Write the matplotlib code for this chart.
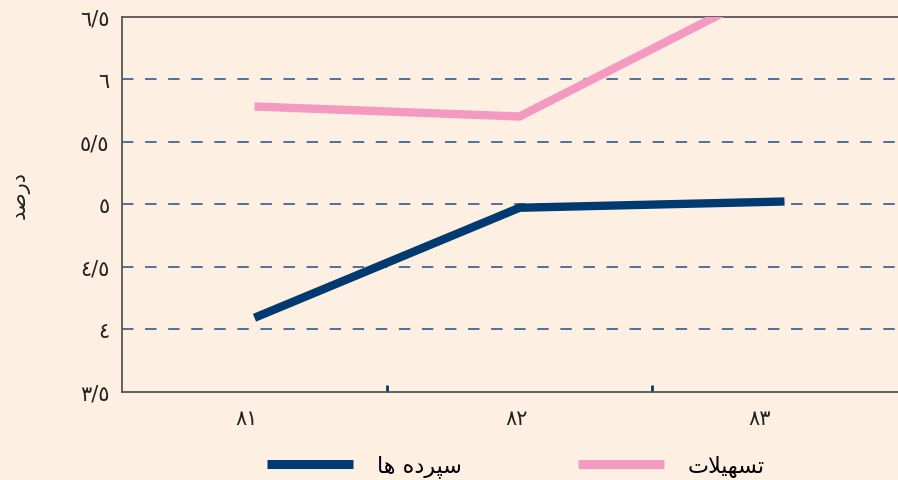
import matplotlib
matplotlib.use("Agg")
import matplotlib.pyplot as plt
from matplotlib.transforms import ScaledTranslation

# ---- data ----
years = ["٨١", "٨٢", "٨٣"]
deposits = [4.09, 4.97, 5.02]      # سپرده ها
facilities = [5.78, 5.70, 6.78]    # تسهیلات
y_ticks = [3.5, 4.0, 4.5, 5.0, 5.5, 6.0, 6.5]
y_tick_labels = ["٣/٥", "٤", "٤/٥", "٥", "٥/٥", "٦", "٦/٥"]
grid_levels = [4.0, 4.5, 5.0, 5.5, 6.0]
label_deposits = "سپرده ها"
label_facilities = "تسهیلات"
y_title = "درصد"

# ---- minimal Arabic/Persian shaping (matplotlib has no complex text layout) ----
LETTERS = {
    "ا": ("\ufe8d", "\ufe8e", None, None),
    "ت": ("\ufe95", "\ufe96", "\ufe97", "\ufe98"),
    "د": ("\ufea9", "\ufeaa", None, None),
    "ر": ("\ufead", "\ufeae", None, None),
    "س": ("\ufeb1", "\ufeb2", "\ufeb3", "\ufeb4"),
    "ص": ("\ufeb9", "\ufeba", "\ufebb", "\ufebc"),
    "ل": ("\ufedd", "\ufede", "\ufedf", "\ufee0"),
    "ه": ("\ufee9", "\ufeea", "\ufeeb", "\ufeec"),
    "پ": ("\ufb56", "\ufb57", "\ufb58", "\ufb59"),
    "ی": ("\ufbfc", "\ufbfd", "\ufbfe", "\ufbff"),
}


def dual(c):
    return c in LETTERS and LETTERS[c][2] is not None


def shape_rtl(text):
    chars = list(text)
    n = len(chars)
    out = []
    i = 0
    while i < n:
        c = chars[i]
        if c not in LETTERS:
            out.append(c)
            i += 1
            continue
        prev = chars[i - 1] if i > 0 else None
        joins_prev = prev is not None and dual(prev)
        if c == "ل" and i + 1 < n and chars[i + 1] == "ا":
            out.append("\ufefc" if joins_prev else "\ufefb")
            i += 2
            continue
        nxt = chars[i + 1] if i + 1 < n else None
        joins_next = dual(c) and nxt in LETTERS
        iso, fin, ini, med = LETTERS[c]
        if joins_prev and joins_next:
            g = med
        elif joins_prev:
            g = fin
        elif joins_next:
            g = ini
        else:
            g = iso
        out.append(g)
        i += 1
    return "".join(reversed(out))


# ---- styling ----
BG = "#FDF0E2"
NAVY = "#003A71"
PINK = "#F49AC1"
GRID = "#1F4E86"
SPINE = "#555555"
TEXT = "#222222"
FS = 15

plt.rcParams["font.family"] = ["DejaVu Sans"]

fig = plt.figure(figsize=(8.98, 4.81), dpi=100, facecolor=BG)
W, H = 898, 481
left_px, right_px, top_px, bottom_px = 122, 917, 17.5, 392.5
ax = fig.add_axes([left_px / W, 1 - bottom_px / H,
                   (right_px - left_px) / W, (bottom_px - top_px) / H])
ax.set_facecolor(BG)

x = list(range(len(years)))
ax.plot(x, deposits, color=NAVY, lw=6, solid_capstyle="butt",
        solid_joinstyle="miter", label=shape_rtl(label_deposits), zorder=3)
ax.plot(x, facilities, color=PINK, lw=6, solid_capstyle="butt",
        solid_joinstyle="miter", label=shape_rtl(label_facilities), zorder=3)

ax.set_xlim(-0.5, len(years) - 0.5)
ax.set_ylim(y_ticks[0], y_ticks[-1])

# y axis: labels on majors, short inner marks + dashed grid on minors
ax.set_yticks(y_ticks)
ax.set_yticklabels(y_tick_labels, fontsize=FS, color=TEXT)
ax.tick_params(axis="y", which="major", length=0, pad=9)
ax.set_yticks(grid_levels, minor=True)
ax.tick_params(axis="y", which="minor", direction="in", length=5,
               width=2.6, color=NAVY)
for lvl in grid_levels:
    ax.axhline(lvl, color=GRID, lw=1.1, dashes=(7.5, 7.6), zorder=1)

# x axis: category labels, short inner marks between categories
ax.set_xticks(x)
ax.set_xticklabels(years, fontsize=FS, color=TEXT)
ax.tick_params(axis="x", which="major", length=0, pad=12)
ax.set_xticks([i + 0.5 for i in x[:-1]], minor=True)
ax.tick_params(axis="x", which="minor", direction="in", length=5,
               width=2, color=NAVY)
label_shift_px = [-8, -3, -25]
for lab, dx in zip(ax.get_xticklabels(), label_shift_px):
    lab.set_transform(lab.get_transform() +
                      ScaledTranslation(dx / 100, 0, fig.dpi_scale_trans))

for side in ["left", "bottom", "top"]:
    ax.spines[side].set_color(SPINE)
    ax.spines[side].set_linewidth(1.3)
ax.spines["right"].set_visible(False)

fig.text(20 / W, 1 - 195 / H, shape_rtl(y_title), rotation=90,
         ha="center", va="center", fontsize=FS, color=TEXT)

leg = fig.legend(loc="center", bbox_to_anchor=(516 / W, 1 - 467 / H),
                 ncol=2, frameon=False, fontsize=16, handlelength=3.87,
                 handletextpad=1.08, columnspacing=5.2, handleheight=0.7)
for h in leg.legend_handles:
    h.set_linewidth(6.5)

fig.savefig("out.png", dpi=100, facecolor=BG)
